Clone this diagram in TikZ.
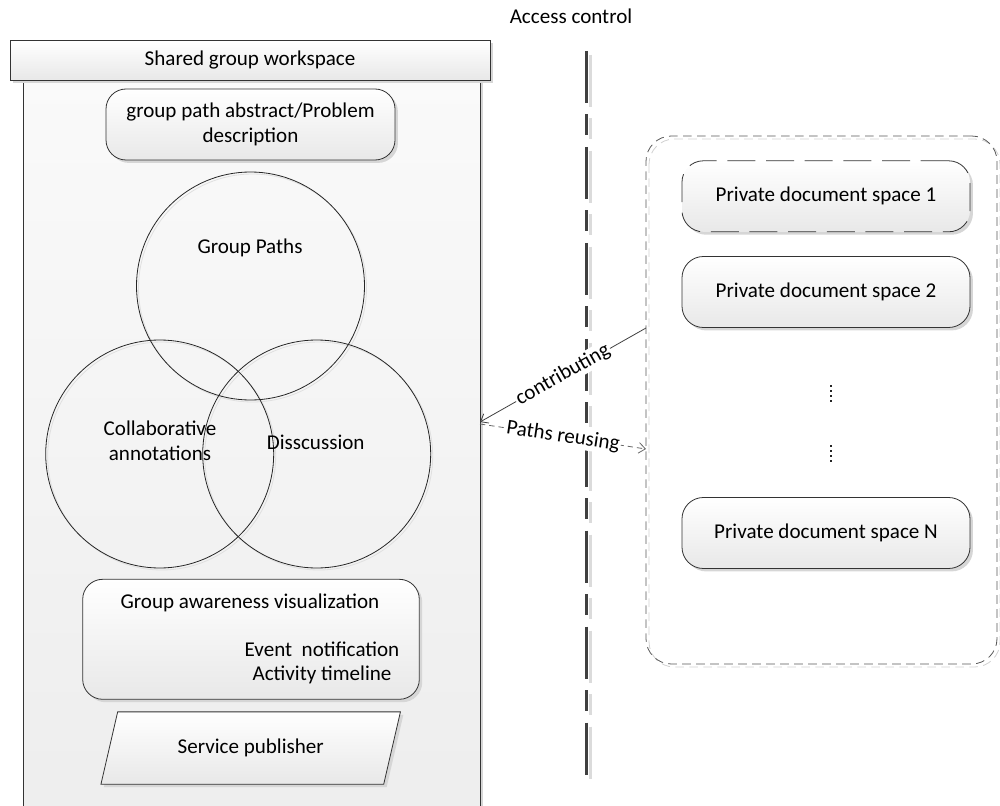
\documentclass[tikz,border=0pt]{standalone}
\usepackage{fontspec}
\setmainfont{Carlito}
\usetikzlibrary{arrows.meta,shapes.geometric,shadows}
\begin{document}
\begin{tikzpicture}[x=0.75pt,y=-0.75pt,
  font=\fontsize{15.8}{18.5}\selectfont,
  every node/.style={inner sep=0pt, outer sep=0pt},
  shd/.style={drop shadow={shadow xshift=2.2pt, shadow yshift=-2.2pt, fill=black!16, opacity=1}},
  boxline/.style={draw=black!80, line width=0.6pt},
  grad/.style={top color=white, bottom color=black!9},
  bodybox/.style={boxline, top color=black!2, bottom color=black!7, shd},
  headbox/.style={boxline, grad, shd},
  roundbox/.style={boxline, grad, shd, rounded corners=15pt, align=center},
  venn/.style={circle, draw=black!85, line width=0.6pt, minimum size={228*0.75pt}},
  vennshd/.style={circle, draw=black!12, line width=0.6pt, minimum size={228*0.75pt}},
  para/.style={trapezium, trapezium left angle=63, trapezium right angle=117, trapezium stretches=true, boxline, grad, shd},
  container/.style={draw=black!65, line width=0.6pt, dash pattern=on 6.5pt off 4pt, rounded corners=19pt},
  privbox/.style={boxline, grad, shd, rounded corners=16pt, minimum width={288*0.75pt}, minimum height={71*0.75pt}},
  conn/.style={draw=black!75, line width=0.6pt},
  tip/.style={-{Straight Barb[length=5pt,width=8pt]}},
  lbl/.style={fill=white, inner sep=1pt, sloped},
  acline/.style={line width=2.25pt, dash pattern=on 39pt off 8.6pt on 15.75pt off 8.6pt}
]
\useasboundingbox (0,0) rectangle (1000,806);

% shared workspace body and header
\node[bodybox, minimum width={457*0.75pt}, minimum height={750*0.75pt}] (body) at (251.5,455) {};
\node[headbox, minimum width={480*0.75pt}, minimum height={40*0.75pt}] (head) at (250,60) {Shared group workspace};

% abstract box
\node[roundbox, minimum width={289*0.75pt}, minimum height={71*0.75pt}] (abs) at (250.5,124.5)
  {group path abstract/Problem\\description};

% Venn circles (faint shadows first)
\node[vennshd] (gps) at (252.5,288) {};
\node[vennshd] (cas) at (161.7,456) {};
\node[vennshd] (dcs) at (318.7,456) {};
\node[venn] (gp) at (250.5,286) {};
\node[venn] (ca) at (159.7,454) {};
\node[venn] (dc) at (316.7,454) {};
\node (gpt) at (250,248) {Group Paths};
\node[align=center, font=\fontsize{15.8}{19}\selectfont] (cat) at (160,441) {Collaborative\\annotations};
\node (dct) at (315.7,442) {Disscussion};

% group awareness box
\node[roundbox, minimum width={336.6*0.75pt}, minimum height={120*0.75pt}] (aw) at (251,639.3) {};
\node (awt) at (250,603) {Group awareness visualization};
\node[align=center, font=\fontsize{15.8}{18.3}\selectfont] (awl) at (322,663) {Event\ \ notification\\Activity timeline};

% service publisher
\node[para, minimum width={300*0.75pt}, minimum height={72.3*0.75pt}] (sp) at (250.7,748) {Service publisher};

% private spaces container
\draw[container, draw=black!18] (649,139) rectangle (1000,667);
\node[container, minimum width={351*0.75pt}, minimum height={528*0.75pt}] (cont) at (821.5,400) {};

\node[privbox, dash pattern=on 21pt off 8pt] (p1) at (826,196.3) {Private document space 1};
\node[privbox] (p2) at (826,292) {Private document space 2};
\node[privbox] (pn) at (826,533) {Private document space N};

% vertical ellipses
\node (d1) at (830.7,393.5) {};
\node (d2) at (830.7,453.5) {};
\foreach \yy in {-7.5,-2.5,2.5,7.5}{
  \fill[black!85] ([yshift=-\yy*0.75pt]d1.center) ++(-1,-1) rectangle ++(2,2);
  \fill[black!85] ([yshift=-\yy*0.75pt]d2.center) ++(-1,-1) rectangle ++(2,2);
}

% access control
\node (ac) at (571,16) {Access control};
\coordinate (actop) at (586,51);
\coordinate (acbot) at (586,775);
\draw[acline, black!14, transform canvas={xshift=3pt,yshift=-3pt}] (actop) -- (acbot);
\draw[acline, black!75] (actop) -- (acbot);

% connectors
\coordinate (cs) at (cont.west |- 0,328);
\coordinate (ce) at (body.east |- 0,422);
\coordinate (ps) at (body.east |- 0,424);
\coordinate (pe) at (cont.west |- 0,449);
\draw[conn, tip] (cs) -- node[lbl, pos=0.5] {contributing} (ce);
\draw[conn, tip, draw=black!60, dash pattern=on 4pt off 3pt] (ps) -- node[lbl, pos=0.5] {Paths reusing} (pe);
\end{tikzpicture}
\end{document}
